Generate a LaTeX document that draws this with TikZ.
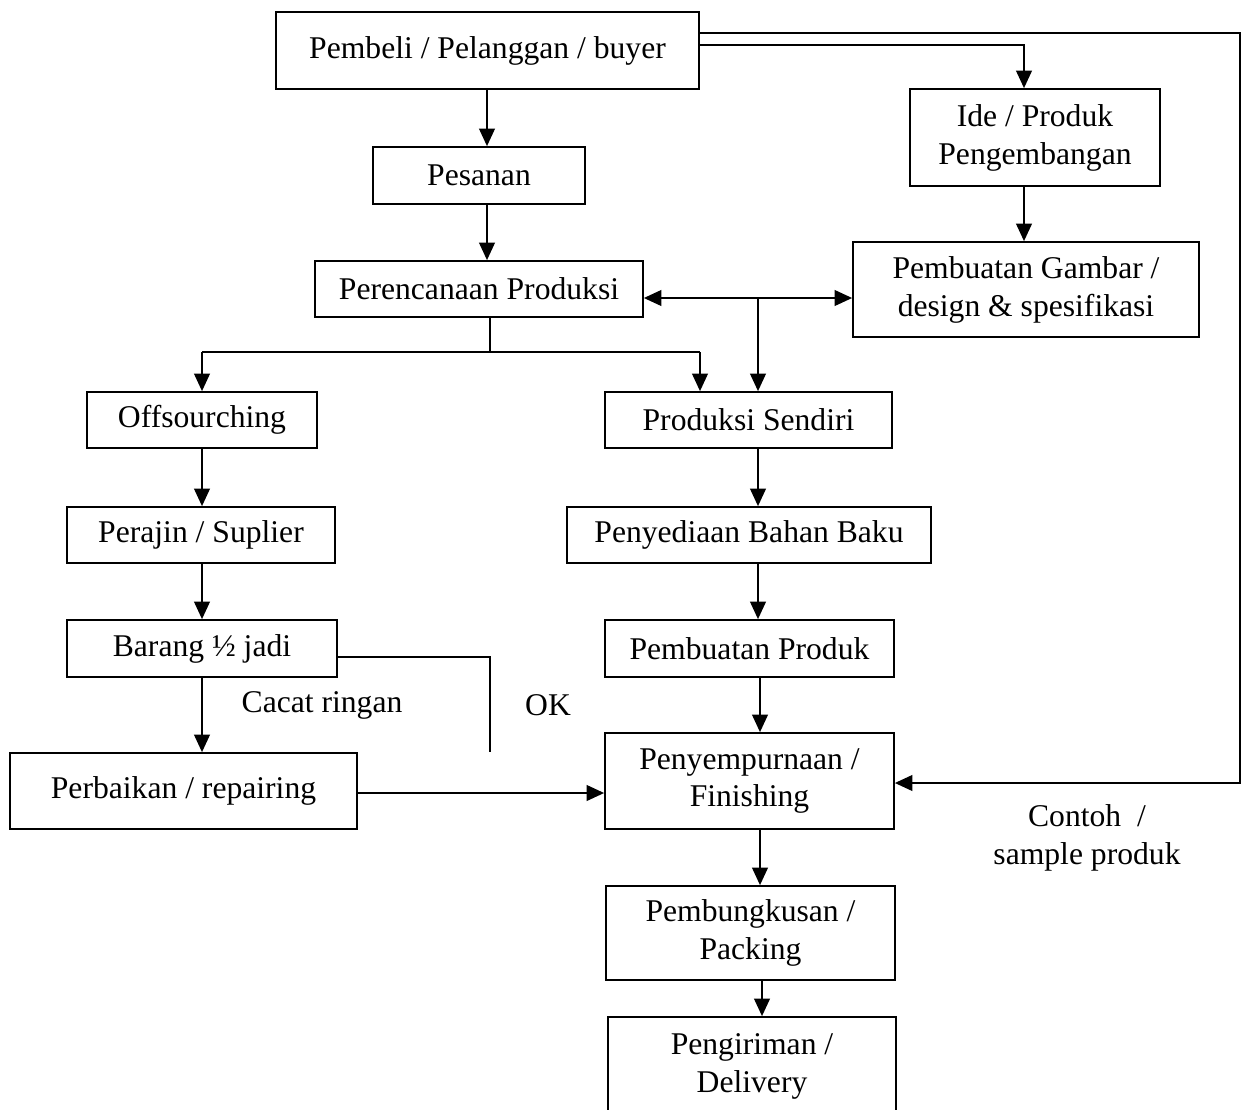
\documentclass[tikz,border=0pt]{standalone}
\usepackage{fontspec}
\setmainfont{Liberation Serif}
\usetikzlibrary{arrows.meta}
\begin{document}
\begin{tikzpicture}[x=0.02cm,y=-0.02cm,
  box/.style={draw,line width=1pt,inner sep=0pt,align=center,font=\fontsize{18}{21.6}\selectfont},
  lbl/.style={inner sep=0pt,align=center,font=\fontsize{18}{21.6}\selectfont},
  conn/.style={line width=1pt},
  arr/.style={line width=1pt,-{Triangle[width=9pt,length=10pt]}},
  darr/.style={line width=1pt,{Triangle[width=9pt,length=10pt]}-{Triangle[width=9pt,length=10pt]}}]
\useasboundingbox[fill=white] (0,0) rectangle (1244,1109);
% boxes
\node[box,minimum width={423*0.02cm},minimum height={77*0.02cm}] (buyer) at (487.5,50.5) {Pembeli / Pelanggan / buyer};
\node[box,minimum width={212*0.02cm},minimum height={57*0.02cm}] (pes) at (479,175.5) {Pesanan};
\node[box,minimum width={328*0.02cm},minimum height={56*0.02cm}] (per) at (479,289) {Perencanaan Produksi};
\node[box,minimum width={250*0.02cm},minimum height={97*0.02cm}] (ide) at (1035,137.5) {Ide / Produk\\Pengembangan};
\node[box,minimum width={346*0.02cm},minimum height={95*0.02cm}] (gam) at (1026,289.5) {Pembuatan Gambar /\\design \& spesifikasi};
\node[box,minimum width={230*0.02cm},minimum height={56*0.02cm}] (off) at (202,420) {Offsourching};
\node[box,minimum width={287*0.02cm},minimum height={56*0.02cm}] (ps) at (748.5,420) {Produksi Sendiri};
\node[box,minimum width={268*0.02cm},minimum height={56*0.02cm}] (sup) at (201,535) {Perajin / Suplier};
\node[box,minimum width={364*0.02cm},minimum height={56*0.02cm}] (bahan) at (749,535) {Penyediaan Bahan Baku};
\node[box,minimum width={270*0.02cm},minimum height={57*0.02cm}] (bar) at (202,648.5) {Barang ½ jadi};
\node[box,minimum width={289*0.02cm},minimum height={57*0.02cm}] (pp) at (749.5,648.5) {Pembuatan Produk};
\node[box,minimum width={347*0.02cm},minimum height={76*0.02cm}] (rep) at (183.5,791) {Perbaikan / repairing};
\node[box,minimum width={289*0.02cm},minimum height={96*0.02cm}] (fin) at (749.5,781) {Penyempurnaan /\\Finishing};
\node[box,minimum width={289*0.02cm},minimum height={94*0.02cm}] (pack) at (750.5,933) {Pembungkusan /\\Packing};
\node[box,minimum width={288*0.02cm},minimum height={116*0.02cm},text depth=0pt] (del) at (752,1075) {};
\node[lbl] (deltxt) at (752,1066) {Pengiriman /\\Delivery};
% labels
\node[lbl] (cacat) at (322,705) {Cacat ringan};
\node[lbl] (ok) at (548,705) {OK};
\node[lbl] (contoh) at (1087,838) {Contoh~~/\\sample produk};
% connectors
\coordinate (c1) at (1024,45);
\coordinate (c2) at (1240,33);
\coordinate (c3) at (1240,783);
\coordinate (split) at (490,352);
\coordinate (sl) at (202,352);
\coordinate (sr) at (700,352);
\coordinate (br) at (758,298);
\coordinate (okend) at (490,752);
\draw[arr] (buyer.south -| 487,0) -- (pes.north -| 487,0);
\draw[arr] (pes.south -| 487,0) -- (per.north -| 487,0);
\draw[arr] (buyer.east |- c1) -- (c1) -- (ide.north -| c1);
\draw[arr] (buyer.east |- c2) -- (c2) -- (c3) -- (fin.east |- c3);
\draw[arr] (ide.south -| c1) -- (gam.north -| c1);
\draw[darr] (per.east |- br) -- (gam.west |- br);
\draw[arr] (br) -- (ps.north -| br);
\draw[conn] (per.south -| split) -- (split);
\draw[conn] (sl) -- (sr);
\draw[arr] (sl) -- (off.north -| sl);
\draw[arr] (sr) -- (ps.north -| sr);
\draw[arr] (off.south -| 202,0) -- (sup.north -| 202,0);
\draw[arr] (sup.south -| 202,0) -- (bar.north -| 202,0);
\draw[arr] (bar.south -| 202,0) -- (rep.north -| 202,0);
\draw[conn] (bar.east |- 0,657) -- (490,657) -- (okend);
\draw[arr] (rep.east |- 0,793) -- (fin.west |- 0,793);
\draw[arr] (ps.south -| 758,0) -- (bahan.north -| 758,0);
\draw[arr] (bahan.south -| 758,0) -- (pp.north -| 758,0);
\draw[arr] (pp.south -| 760,0) -- (fin.north -| 760,0);
\draw[arr] (fin.south -| 760,0) -- (pack.north -| 760,0);
\draw[arr] (pack.south -| 762,0) -- (del.north -| 762,0);
\end{tikzpicture}
\end{document}
